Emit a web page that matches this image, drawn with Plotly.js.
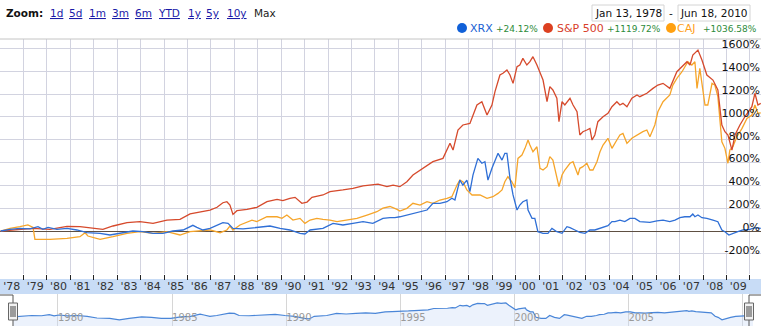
<!DOCTYPE html>
<html><head><meta charset="utf-8">
<script src="https://cdn.plot.ly/plotly-3.0.1.min.js"></script>
<style>html,body{margin:0;padding:0;background:#fff;overflow:hidden}#chart{width:761px;height:326px}</style>
</head><body><div id="chart"></div>
<script>
// ---------- DATA ----------
const spYears = [1978.03,1978.85,1979.41,1980.13,1980.86,1981.41,1981.97,1982.39,1982.82,1983.42,1983.97,1984.53,1985.12,1985.68,1986.11,1986.53,1986.96,1987.26,1987.51,1987.68,1987.81,1987.94,1988.11,1988.54,1988.96,1989.39,1989.82,1990.07,1990.37,1990.59,1990.88,1991.10,1991.31,1991.78,1992.08,1992.63,1993.06,1993.49,1994.13,1994.51,1994.77,1995.06,1995.36,1995.62,1996.05,1996.47,1996.90,1997.07,1997.20,1997.33,1997.54,1997.75,1998.05,1998.35,1998.56,1998.78,1998.99,1999.12,1999.33,1999.46,1999.63,1999.76,1999.89,2000.06,2000.18,2000.31,2000.48,2000.61,2000.74,2000.91,2001.04,2001.17,2001.34,2001.46,2001.59,2001.76,2001.85,2001.98,2002.10,2002.32,2002.45,2002.62,2002.74,2002.87,2003.04,2003.17,2003.26,2003.38,2003.51,2003.73,2003.94,2004.11,2004.32,2004.45,2004.58,2004.75,2004.96,2005.18,2005.30,2005.60,2005.86,2006.07,2006.29,2006.58,2006.88,2007.14,2007.31,2007.44,2007.56,2007.78,2007.95,2008.16,2008.42,2008.63,2008.80,2008.93,2009.06,2009.23,2009.36,2009.57,2009.78,2010.08,2010.21,2010.34,2010.46];
const spPct = [0,15,23,15,41,38,23,15,44,73,82,67,96,102,150,166,184,208,248,257,228,146,178,190,208,257,278,266,287,295,243,254,295,316,345,360,374,395,412,389,403,389,432,491,550,608,637,710,769,710,886,930,944,1105,1134,1017,1105,1222,1368,1383,1412,1368,1295,1441,1456,1514,1456,1485,1529,1456,1397,1324,1134,1266,1237,1164,959,1134,1105,1164,1105,1046,842,871,886,900,798,842,959,1002,1032,1090,1134,1105,1120,1090,1164,1193,1178,1208,1251,1280,1295,1251,1397,1456,1485,1456,1543,1587,1500,1368,1324,1237,930,871,842,710,842,930,1002,1090,1208,1105,1120];

const cajYears = [1978.03,1978.43,1978.85,1979.19,1979.41,1979.49,1980.13,1980.86,1981.41,1981.63,1981.75,1982.27,1982.82,1983.42,1983.97,1984.53,1985.12,1985.68,1986.11,1986.53,1986.96,1987.39,1987.68,1987.81,1987.94,1988.24,1988.54,1988.75,1988.96,1989.39,1989.82,1990.03,1990.24,1990.50,1990.80,1991.01,1991.23,1991.52,1991.78,1992.08,1992.38,1992.80,1993.23,1993.66,1994.08,1994.34,1994.64,1994.94,1995.06,1995.36,1995.62,1995.92,1996.22,1996.47,1996.77,1997.07,1997.28,1997.50,1997.62,1997.75,1997.92,1998.14,1998.48,1998.78,1999.03,1999.25,1999.42,1999.54,1999.67,1999.84,1999.97,2000.10,2000.27,2000.40,2000.53,2000.61,2000.74,2000.91,2001.04,2001.17,2001.34,2001.46,2001.59,2001.85,2001.98,2002.10,2002.32,2002.45,2002.62,2002.66,2002.74,2002.87,2003.04,2003.17,2003.30,2003.47,2003.60,2003.73,2003.94,2004.11,2004.32,2004.45,2004.58,2004.75,2004.96,2005.18,2005.43,2005.60,2005.73,2005.94,2006.07,2006.29,2006.58,2006.71,2006.88,2007.10,2007.22,2007.35,2007.52,2007.65,2007.74,2007.86,2008.08,2008.20,2008.38,2008.50,2008.63,2008.80,2008.93,2009.06,2009.14,2009.27,2009.44,2009.66,2009.87,2010.08,2010.21,2010.34,2010.46];
const cajPct = [0,23,38,53,32,-73,-73,-64,-50,-15,-44,-73,-50,-20,-6,-20,-6,-35,-6,3,9,-15,9,44,9,53,82,96,82,125,125,111,140,96,111,67,96,111,102,96,82,96,111,140,169,200,215,190,175,199,243,228,257,243,272,287,301,403,447,432,360,316,316,287,301,330,360,432,476,432,380,637,666,725,798,754,695,739,550,535,564,652,622,389,491,535,594,608,520,491,550,564,594,535,535,608,695,754,813,725,798,842,856,769,813,842,871,886,827,930,1046,1134,1193,1280,1339,1397,1441,1485,1456,1485,1251,1426,1105,1105,1295,1280,1178,783,725,594,710,739,827,900,988,1017,1105,1032,1037];

const xrxYears = [1978.03,1978.43,1978.85,1979.28,1979.62,1979.83,1980.05,1980.43,1980.86,1981.28,1981.71,1982.27,1982.69,1983.12,1983.67,1984.10,1984.53,1984.95,1985.38,1985.81,1986.23,1986.40,1986.66,1986.96,1987.26,1987.51,1987.73,1987.94,1988.37,1988.96,1989.52,1989.95,1990.37,1990.80,1991.01,1991.23,1991.78,1992.21,1992.63,1993.06,1993.49,1993.91,1994.34,1994.64,1994.85,1995.06,1995.36,1995.62,1995.92,1996.22,1996.47,1996.77,1997.07,1997.28,1997.41,1997.62,1997.75,1997.92,1998.05,1998.18,1998.39,1998.56,1998.69,1998.82,1998.99,1999.12,1999.25,1999.42,1999.54,1999.63,1999.76,1999.89,2000.06,2000.18,2000.31,2000.48,2000.53,2000.70,2000.82,2000.95,2001.17,2001.38,2001.55,2001.76,2001.98,2002.19,2002.32,2002.53,2002.74,2002.96,2003.17,2003.38,2003.60,2003.73,2003.94,2004.11,2004.24,2004.45,2004.66,2004.88,2005.09,2005.30,2005.52,2005.73,2006.03,2006.29,2006.58,2006.80,2007.01,2007.22,2007.44,2007.56,2007.65,2007.78,2007.95,2008.16,2008.42,2008.63,2008.80,2008.93,2009.10,2009.27,2009.48,2009.70,2010.00,2010.21,2010.34,2010.46];
const xrxPct = [0,15,23,18,38,15,32,15,23,9,-15,-20,-35,-20,0,-6,-20,-20,0,9,50,32,9,23,53,73,67,23,18,32,44,23,9,-20,-26,9,23,67,53,67,82,67,111,117,117,125,140,155,169,184,243,243,257,287,272,447,403,447,345,491,637,594,608,447,550,608,681,622,681,681,462,316,184,228,257,272,184,111,111,-6,-20,-20,23,-6,-20,38,30,9,-12,-20,9,9,23,38,47,82,82,96,82,111,111,82,82,76,88,96,82,96,117,125,125,149,125,140,117,111,96,82,9,-6,-35,-20,-6,9,15,29,29,24];

const yTickVals = [-200,0,200,400,600,800,1000,1200,1400,1600];
const yTickText = ['-200%','0%','200%','400%','600%','800%','1000%','1200%','1400%','1600%'];
const yearStarts = [1979,1980,1981,1982,1983,1984,1985,1986,1987,1988,1989,1990,1991,1992,1993,1994,1995,1996,1997,1998,1999,2000,2001,2002,2003,2004,2005,2006,2007,2008,2009,2010];
const yearMids = [1978.5,1979.5,1980.5,1981.5,1982.5,1983.5,1984.5,1985.5,1986.5,1987.5,1988.5,1989.5,1990.5,1991.5,1992.5,1993.5,1994.5,1995.5,1996.5,1997.5,1998.5,1999.5,2000.5,2001.5,2002.5,2003.5,2004.5,2005.5,2006.5,2007.5,2008.5,2009.5,2010.5];
const yearLabels = ["'78","'79","'80","'81","'82","'83","'84","'85","'86","'87","'88","'89","'90","'91","'92","'93","'94","'95","'96","'97","'98","'99","'00","'01","'02","'03","'04","'05","'06","'07","'08","'09","'10"];
const navYears = [1980,1985,1990,1995,2000,2005,2010];
const navLabels = ['1980','1985','1990','1995','2000','2005','2010'];

const zoomLinks = ['1d','5d','1m','3m','6m','YTD','1y','5y','10y'];
const legendNames = ['XRX','S&P 500','CAJ'];
const legendChanges = ['+24.12%','+1119.72%','+1036.58%'];
const dateFrom = 'Jan 13, 1978';
const dateTo = 'Jun 18, 2010';

// ---------- STYLE ----------
const W = 761, H = 326;
const F = 'DejaVu Sans, Verdana, sans-serif';
const COLORS = {XRX:'#2f6fd6', SP:'#d64a2c', CAJ:'#f6a52a'};
const GRID = '#d2d3e0';
const px = x => x / W;
const py = y => 1 - y / H;
const esc = s => s.replace(/&/g,'&amp;');

const traces = [
  {x: cajYears, y: cajPct, xaxis:'x', yaxis:'y', mode:'lines', line:{color:COLORS.CAJ, width:1.3}, hoverinfo:'skip'},
  {x: spYears, y: spPct, xaxis:'x', yaxis:'y', mode:'lines', line:{color:COLORS.SP, width:1.3}, hoverinfo:'skip'},
  {x: xrxYears, y: xrxPct, xaxis:'x', yaxis:'y', mode:'lines', line:{color:COLORS.XRX, width:1.3}, hoverinfo:'skip'},
  {x: xrxYears, y: xrxPct.map(p => 1 + p/100), xaxis:'x2', yaxis:'y2', mode:'lines',
   line:{color:'#4a86d8', width:1.2}, fill:'tozeroy', fillcolor:'rgba(200,218,245,0.35)', hoverinfo:'skip'}
];

const shapes = [
  {type:'line', xref:'paper', yref:'paper', x0:0, x1:1, y0:py(39), y1:py(39), line:{color:'#c4c4c4', width:1}},
  {type:'rect', xref:'paper', yref:'paper', x0:0, x1:1, y0:py(294), y1:py(279), fillcolor:'#c8dcf6', line:{width:0}, layer:'below'},
  {type:'rect', xref:'paper', yref:'paper', x0:px(592), x1:px(664), y0:py(21), y1:py(5), fillcolor:'#fff', line:{color:'#d4d4d4', width:1}},
  {type:'rect', xref:'paper', yref:'paper', x0:px(678), x1:px(750), y0:py(21), y1:py(5), fillcolor:'#fff', line:{color:'#d4d4d4', width:1}},
  {type:'circle', xref:'paper', yref:'paper', x0:px(457), x1:px(467), y0:py(33), y1:py(23), fillcolor:'#1060d8', line:{width:0}},
  {type:'circle', xref:'paper', yref:'paper', x0:px(543), x1:px(553), y0:py(33), y1:py(23), fillcolor:'#dc4020', line:{width:0}},
  {type:'circle', xref:'paper', yref:'paper', x0:px(666), x1:px(676), y0:py(33), y1:py(23), fillcolor:'#ffa010', line:{width:0}},
  {type:'path', xref:'paper', yref:'paper', path:`M0,${py(295)} L${px(13)},${py(295)} L${px(13)},${py(326)}`, line:{color:'#555', width:1}},
  {type:'path', xref:'paper', yref:'paper', path:`M1,${py(295)} L${px(749)},${py(295)} L${px(749)},${py(326)}`, line:{color:'#555', width:1}},
  {type:'rect', xref:'paper', yref:'paper', x0:px(8.5), x1:px(17.5), y0:py(320), y1:py(303), fillcolor:'#f2f2f2', line:{color:'#666', width:1}},
  {type:'rect', xref:'paper', yref:'paper', x0:px(744.5), x1:px(753.5), y0:py(320), y1:py(303), fillcolor:'#f2f2f2', line:{color:'#666', width:1}}
];
[11,13,15].forEach(x => shapes.push({type:'line', xref:'paper', yref:'paper', x0:px(x), x1:px(x), y0:py(317), y1:py(306), line:{color:'#444', width:1}}));
[747,749,751].forEach(x => shapes.push({type:'line', xref:'paper', yref:'paper', x0:px(x), x1:px(x), y0:py(317), y1:py(306), line:{color:'#444', width:1}}));

const ann = (text, x, y, size, color, anchor) => ({text, x:px(x), y:py(y), xref:'paper', yref:'paper',
  xanchor:anchor || 'left', yanchor:'middle', showarrow:false, borderpad:0,
  font:{family:F, size, color}});

const annotations = [ann('<b>Zoom:</b>', 5, 13.5, 10.5, '#111')];
const zoomLinkX = [49, 68, 88, 111, 134, 156.5, 187, 205, 226];
zoomLinks.forEach((t,i) => annotations.push(ann('<u>'+t+'</u>', zoomLinkX[i], 13.5, 10.5, '#1a1aa8')));
annotations.push(ann('Max', 253, 13.5, 10.5, '#222'));
annotations.push(ann(dateFrom, 628, 13.5, 10.5, '#111', 'center'));
annotations.push(ann('-', 671, 13.5, 10.5, '#111', 'center'));
annotations.push(ann(dateTo, 714, 13.5, 10.5, '#111', 'center'));
const legNameX = [469, 555.5, 676];
const legPctX = [495, 605.5, 701.5];
const legColors = ['#1a5fd3', '#d8402a', '#ff9f1a'];
legendNames.forEach((n,i) => {
  annotations.push(ann(esc(n), legNameX[i], 28.5, 11, legColors[i]));
  annotations.push(ann(legendChanges[i], legPctX[i], 29, 9, '#2e8b3a'));
});

const layout = {
  width: W, height: H,
  margin: {l:0, r:0, t:0, b:0, pad:0},
  paper_bgcolor:'#fff', plot_bgcolor:'rgba(0,0,0,0)',
  showlegend:false,
  font:{family:F},
  xaxis: {domain:[0,1], range:[1978, 2010.47], anchor:'y', tickmode:'array', tickvals:yearMids, ticktext:yearLabels,
    ticks:'', showgrid:false, zeroline:false, showline:false, ticklabelstandoff:4, ticklabeloverflow:'allow',
    tickfont:{family:F, size:11, color:'#333'},
    minor:{tickmode:'array', tickvals:yearStarts, ticks:'outside', ticklen:5, tickwidth:1, tickcolor:'#222',
           showgrid:true, gridcolor:GRID, gridwidth:1}},
  yaxis: {domain:[py(274), py(39)], range:[-377, 1684], anchor:'free', position:px(760), side:'left', tickmode:'array',
    tickvals:yTickVals, ticktext:yTickText, ticklabelposition:'outside', ticks:'', ticklabelshift:-4, ticklabeloverflow:'allow',
    showgrid:true, gridcolor:GRID, gridwidth:1, zeroline:true, zerolinecolor:'#5e4f42', zerolinewidth:1,
    showline:false, tickfont:{family:F, size:11, color:'#111'}},
  xaxis2: {domain:[px(13), px(753)], range:[1978.03, 2010.46], anchor:'free', position:py(310), tickmode:'array', tickvals:navYears,
    ticktext:navLabels, ticks:'', ticklabelposition:'outside right', showgrid:true, gridcolor:'#d6d6d6',
    zeroline:false, showline:false, tickfont:{family:F, size:10, color:'#9a9a9a'}},
  yaxis2: {domain:[0, py(294)], type:'log', range:[-0.581, 1.462], anchor:'x2', showticklabels:false, ticks:'',
    showgrid:false, zeroline:false, showline:false},
  shapes, annotations
};

Plotly.newPlot('chart', traces, layout, {displayModeBar:false, staticPlot:true});
</script></body></html>
